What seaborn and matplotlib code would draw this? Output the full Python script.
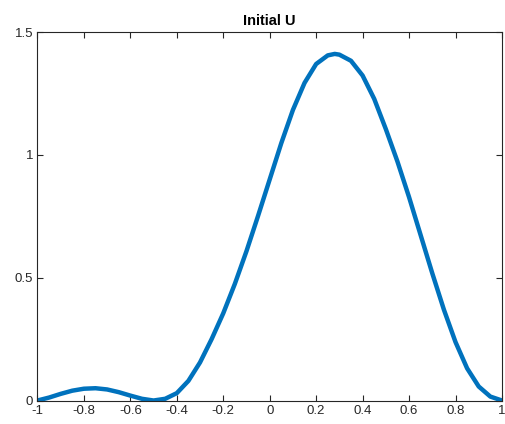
import matplotlib
matplotlib.use("Agg")
import matplotlib.pyplot as plt
import seaborn as sns
import pandas as pd

x_vals = [-1.00, -0.95, -0.90, -0.85, -0.80, -0.75, -0.70, -0.65, -0.60, -0.55,
          -0.50, -0.45, -0.40, -0.35, -0.30, -0.25, -0.20, -0.15, -0.10, -0.05,
          0.00, 0.05, 0.10, 0.15, 0.20, 0.25, 0.28, 0.30, 0.35, 0.40,
          0.45, 0.50, 0.55, 0.60, 0.65, 0.70, 0.75, 0.80, 0.85, 0.90,
          0.95, 1.00]
u_vals = [0.000, 0.012, 0.027, 0.040, 0.048, 0.050, 0.045, 0.034, 0.020, 0.007,
          0.000, 0.007, 0.030, 0.080, 0.155, 0.250, 0.355, 0.475, 0.608, 0.752,
          0.900, 1.048, 1.183, 1.293, 1.370, 1.405, 1.411, 1.408, 1.383, 1.323,
          1.228, 1.105, 0.973, 0.828, 0.673, 0.518, 0.370, 0.238, 0.131, 0.057,
          0.016, 0.000]
x_ticks = [-1, -0.8, -0.6, -0.4, -0.2, 0, 0.2, 0.4, 0.6, 0.8, 1]
x_tick_labels = ["-1", "-0.8", "-0.6", "-0.4", "-0.2", "0", "0.2", "0.4", "0.6", "0.8", "1"]
y_ticks = [0, 0.5, 1, 1.5]
y_tick_labels = ["0", "0.5", "1", "1.5"]
title = "Initial U"

sns.set_style("white")
plt.rcParams['font.family'] = ['Liberation Sans', 'DejaVu Sans']

df = pd.DataFrame({"x": x_vals, "u": u_vals})

fig = plt.figure(figsize=(5.06, 4.24), dpi=100)
ax = fig.add_axes([0.074, 0.0554, 0.918, 0.869])
sns.lineplot(data=df, x="x", y="u", ax=ax, color="#0072BD", linewidth=3.2)
for line in ax.get_lines():
    line.set_solid_joinstyle("round")
    line.set_solid_capstyle("round")

ax.set_xlim(-1, 1)
ax.set_ylim(0, 1.5)
ax.set_xticks(x_ticks)
ax.set_xticklabels(x_tick_labels)
ax.set_yticks(y_ticks)
ax.set_yticklabels(y_tick_labels)
ax.set_xlabel("")
ax.set_ylabel("")
for s in ax.spines.values():
    s.set_visible(True)
    s.set_color("#262626")
    s.set_linewidth(0.8)
ax.tick_params(axis="both", direction="in", length=4, width=0.8, color="#262626",
               labelcolor="#262626", labelsize=9.5, top=True, right=True,
               bottom=True, left=True, pad=3)
ax.set_title(title, fontsize=10.5, fontweight="bold", color="black", pad=5)
fig.savefig("out.png", dpi=100)
